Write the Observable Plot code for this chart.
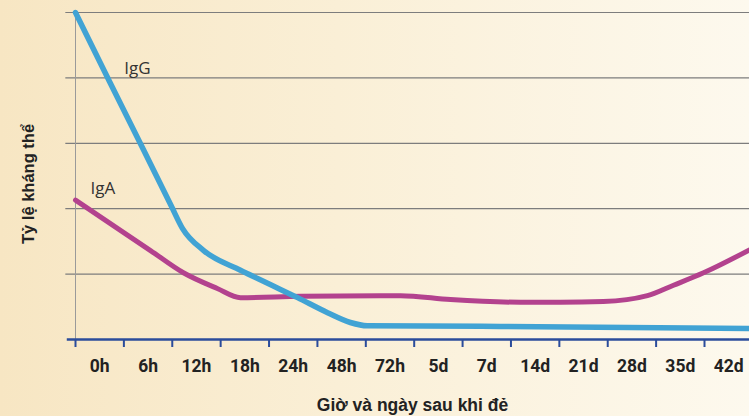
<!DOCTYPE html>
<html>
<head>
<meta charset="utf-8">
<script src="https://cdn.jsdelivr.net/npm/d3@7"></script>
<script src="https://cdn.jsdelivr.net/npm/@observablehq/plot@0.6"></script>
<style>
  html, body { margin: 0; padding: 0; }
  body { width: 749px; height: 416px; overflow: hidden;
         background: linear-gradient(to right, #f7e6c3 0%, #faefd6 45%, #fdf9ee 100%); }
  svg { background: transparent !important; }
</style>
</head>
<body>
<div id="chart"></div>
<script>
// Tick labels (one band per label)
const categories = ["0h","6h","12h","18h","24h","48h","72h","5d","7d","14d","21d","28d","35d","42d"];

// IgG curve (x = position along the time axis in bands, y = relative level)
const iggX = [0, 0.7, 1.4, 1.98, 2.21, 2.65, 3.41, 3.97, 4.59, 5.21, 5.68, 6.03, 8.78, 13.93];
const iggY = [5.0, 3.95, 2.91, 2.04, 1.70, 1.36, 1.06, 0.86, 0.64, 0.41, 0.26, 0.21, 0.20, 0.17];

// IgA curve
const igaX = [0, 1.55, 2.23, 2.93, 3.41, 4.65, 6.72, 7.75, 9.20, 10.02, 10.91, 11.82, 12.36, 12.98, 13.93];
const igaY = [2.13, 1.36, 1.02, 0.78, 0.64, 0.66, 0.67, 0.61, 0.57, 0.57, 0.58, 0.67, 0.83, 1.02, 1.37];

const seriesLabels = [
  {name: "IgG", x: 1.01, y: 4.14},
  {name: "IgA", x: 0.31, y: 2.31}
];
const gridValues = [1, 2, 3, 4, 5];

const igg = iggX.map((x, i) => ({x, y: iggY[i]}));
const iga = igaX.map((x, i) => ({x, y: igaY[i]}));
const xMax = 13.93;

const plot = Plot.plot({
  width: 749,
  height: 416,
  marginLeft: 75,
  marginRight: 0,
  marginTop: 12,
  marginBottom: 77,
  style: {background: "transparent", fontFamily: "Roboto, 'Open Sans', sans-serif"},
  x: {domain: [0, xMax], axis: null},
  y: {domain: [0, 5], axis: null},
  marks: [
    Plot.ruleY(gridValues, {x1: -0.2, x2: xMax, stroke: "#7d7d7d", strokeWidth: 1.2}),
    Plot.ruleX([0], {y1: 0, y2: 5, stroke: "#9a9a9a", strokeWidth: 1}),
    Plot.line(iga, {x: "x", y: "y", stroke: "#b3428e", strokeWidth: 5, curve: "monotone-x"}),
    Plot.line(igg, {x: "x", y: "y", stroke: "#41a3d4", strokeWidth: 5.5, curve: "monotone-x"}),
    Plot.ruleY([0], {x1: -0.17, x2: xMax, stroke: "#2b4c9b", strokeWidth: 2.5}),
    Plot.axisX(d3.range(categories.length), {
      tickSize: 8, tickFormat: () => "", stroke: "#2b4c9b", strokeWidth: 2, label: null
    }),
    Plot.axisX(d3.range(categories.length).map(i => i + 0.5), {
      tickSize: 0, tickPadding: 20, tickFormat: (d) => categories[Math.round(d - 0.5)],
      fontSize: 17.5, fontWeight: "bold", fill: "#222", label: null
    }),
    Plot.text(seriesLabels, {x: "x", y: "y", text: "name", textAnchor: "start",
      fontSize: 17, fill: "#333", fontFamily: "'Open Sans', sans-serif"}),
    Plot.text(["Tỷ lệ kháng thể"], {frameAnchor: "left", textAnchor: "middle", lineAnchor: "middle",
      rotate: -90, dx: -47, dy: 8,
      fontSize: 16.5, fontWeight: "bold", fill: "#222", fontFamily: "'Liberation Sans', Arial, sans-serif"}),
    Plot.text(["Giờ và ngày sau khi đẻ"], {frameAnchor: "bottom", lineAnchor: "middle", dy: 66,
      fontSize: 17.5, fontWeight: "bold", fill: "#222", fontFamily: "'Liberation Sans', Arial, sans-serif"})
  ]
});
document.getElementById("chart").appendChild(plot);
</script>
</body>
</html>
